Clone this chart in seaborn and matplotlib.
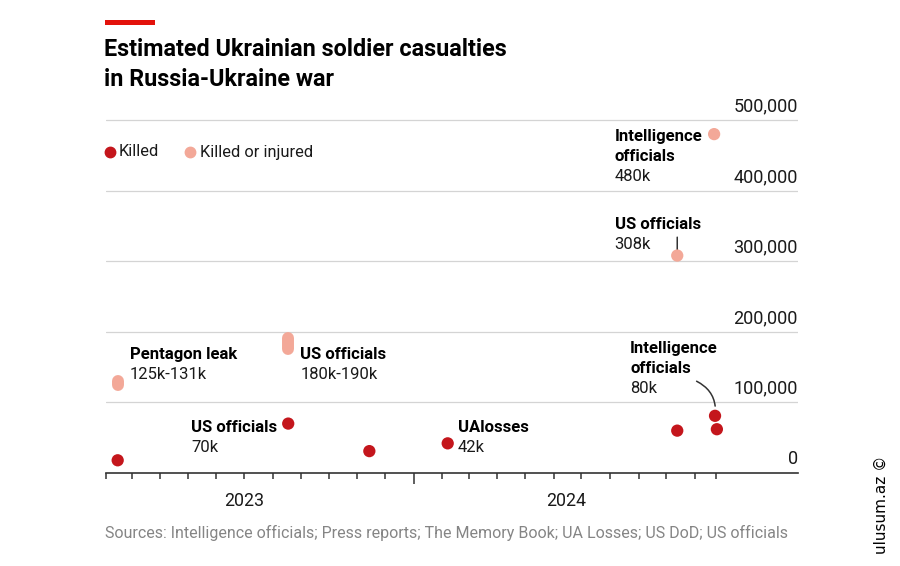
import matplotlib.pyplot as plt
import seaborn as sns
import pandas as pd
from matplotlib.lines import Line2D
from matplotlib.patches import Rectangle

RED = "#C4161C"
PINK = "#F3A898"
ECON_RED = "#E3120B"
INK = "#1A1A1A"

# --- data ---
killed_dates = ["2023-02-14", "2023-08-18", "2023-11-14", "2024-02-07",
                "2024-10-13", "2024-11-23", "2024-11-25"]
killed_values = [18000, 70000, 31000, 42000, 60000, 81000, 62000]

injured_dates = ["2024-10-13", "2024-11-22"]
injured_values = [308000, 480000]

range_dates = ["2023-02-14", "2023-08-18"]
range_low = [125000, 176000]
range_high = [131000, 191000]

y_ticks = [0, 100000, 200000, 300000, 400000, 500000]
year_labels = ["2023", "2024"]
year_label_dates = ["2023-07-01", "2024-06-14"]
month_ticks = list(pd.date_range("2023-02-01", "2024-11-01", freq="MS")) + [pd.Timestamp("2024-11-24")]
year_tick = [pd.Timestamp("2024-01-01")]

df = pd.DataFrame({
    "date": pd.to_datetime(killed_dates + injured_dates),
    "value": killed_values + injured_values,
    "kind": ["Killed"] * len(killed_dates) + ["Killed or injured"] * len(injured_dates),
})

sns.set_theme(style="white")
plt.rcParams["font.family"] = ["Roboto", "DejaVu Sans"]

W, H = 900, 566
fig = plt.figure(figsize=(9, 5.66), dpi=100)


def fx(px):
    return px / W


def fy(py):
    return 1 - py / H


# axes: x from 105.7px to 798px, y=0 at 473px, 0.706 px per 1k
y_top = 530000
ax = fig.add_axes([fx(105.7), fy(473), fx(798) - fx(105.7), (0.706 * y_top / 1000) / H])

for v in y_ticks[1:]:
    ax.axhline(v, color="#D4D4D4", lw=0.9, zorder=0)

for d, lo, hi in zip(range_dates, range_low, range_high):
    t = pd.Timestamp(d)
    ax.plot([t, t], [lo, hi], color=PINK, lw=8.6, solid_capstyle="round", zorder=3)

sns.scatterplot(data=df, x="date", y="value", hue="kind",
                palette={"Killed": RED, "Killed or injured": PINK},
                s=78, linewidth=0, legend=False, ax=ax, zorder=4)

ax.set_xlim(pd.Timestamp("2023-02-01"), pd.Timestamp("2025-02-21"))
ax.set_ylim(0, y_top)
ax.set_xlabel("")
ax.set_ylabel("")
ax.set_yticks([])
for s in ["left", "right", "top"]:
    ax.spines[s].set_visible(False)
ax.spines["bottom"].set_color("#333333")
ax.spines["bottom"].set_linewidth(1.2)

ax.set_xticks(year_tick)
ax.set_xticks(month_ticks, minor=True)
ax.set_xticklabels([])
ax.tick_params(axis="x", which="major", length=8, width=1.1, color="#333333", bottom=True)
ax.tick_params(axis="x", which="minor", length=4.3, width=1.1, color="#333333", bottom=True)

for lab, d in zip(year_labels, year_label_dates):
    ax.annotate(lab, xy=(pd.Timestamp(d), 0), xytext=(0, -13.5), textcoords="offset points",
                ha="center", va="top", fontsize=12.8, color=INK)

# y labels sit above the gridlines, right-aligned
for v in y_ticks:
    ax.annotate(f"{v:,}", xy=(1, v), xycoords=ax.get_yaxis_transform(),
                xytext=(0, 3.3), textcoords="offset points",
                ha="right", va="bottom", fontsize=13, color=INK)


def note(date, y, title_lines, value):
    t = pd.Timestamp(date)
    for i, line in enumerate(title_lines):
        ax.annotate(line, xy=(t, y), xytext=(0, -14.4 * i), textcoords="offset points",
                    ha="left", va="baseline", fontsize=12, fontweight="bold", color="black")
    ax.annotate(value, xy=(t, y), xytext=(0, -14.4 * len(title_lines)), textcoords="offset points",
                ha="left", va="baseline", fontsize=12, color=INK)


note("2023-02-27", 161500, ["Pentagon leak"], "125k-131k")
note("2023-08-31", 161500, ["US officials"], "180k-190k")
note("2023-05-05", 58000, ["US officials"], "70k")
note("2024-02-18", 58000, ["UAlosses"], "42k")
note("2024-08-23", 170000, ["Intelligence", "officials"], "80k")
note("2024-08-06", 470000, ["Intelligence", "officials"], "480k")
note("2024-08-06", 345600, ["US officials"], "308k")

# connector lines
ax.annotate("", xy=(pd.Timestamp("2024-10-13"), 316000), xytext=(pd.Timestamp("2024-10-13"), 334000),
            arrowprops=dict(arrowstyle="-", color="#333333", lw=1.1, shrinkA=0, shrinkB=0))
ax.annotate("", xy=(pd.Timestamp("2024-11-23"), 81000), xytext=(pd.Timestamp("2024-11-03"), 130000),
            arrowprops=dict(arrowstyle="-", color="#333333", lw=1.1, shrinkA=0, shrinkB=7,
                            connectionstyle="arc3,rad=-0.35"))

# legend
fig.add_artist(Line2D([fx(110)], [fy(152)], marker="o", ms=7.5, color=RED, lw=0, transform=fig.transFigure))
fig.text(fx(119), fy(152), "Killed", ha="left", va="center", fontsize=11.8, color=INK)
fig.add_artist(Line2D([fx(190)], [fy(152)], marker="o", ms=7.5, color=PINK, lw=0, transform=fig.transFigure))
fig.text(fx(200), fy(152), "Killed or injured", ha="left", va="center", fontsize=11.8, color=INK)

# header
fig.add_artist(Rectangle((fx(105), fy(25)), fx(50), 5 / H, color=ECON_RED, lw=0, transform=fig.transFigure))
fig.text(fx(104), fy(56.5), "Estimated Ukrainian soldier casualties", ha="left", va="baseline",
         fontsize=16.8, fontweight="bold", color="black")
fig.text(fx(104), fy(86.5), "in Russia-Ukraine war", ha="left", va="baseline",
         fontsize=16.8, fontweight="bold", color="black")

fig.text(fx(105), fy(533), "Sources: Intelligence officials; Press reports; The Memory Book; UA Losses; US DoD; US officials",
         ha="left", va="center", fontsize=11.55, color="#858585")

fig.text(fx(881), fy(505), "ulusum.az ©", rotation=90, ha="center", va="center",
         fontsize=11, color="black", family="DejaVu Sans")

fig.savefig("out.png", dpi=100)
plt.close(fig)
